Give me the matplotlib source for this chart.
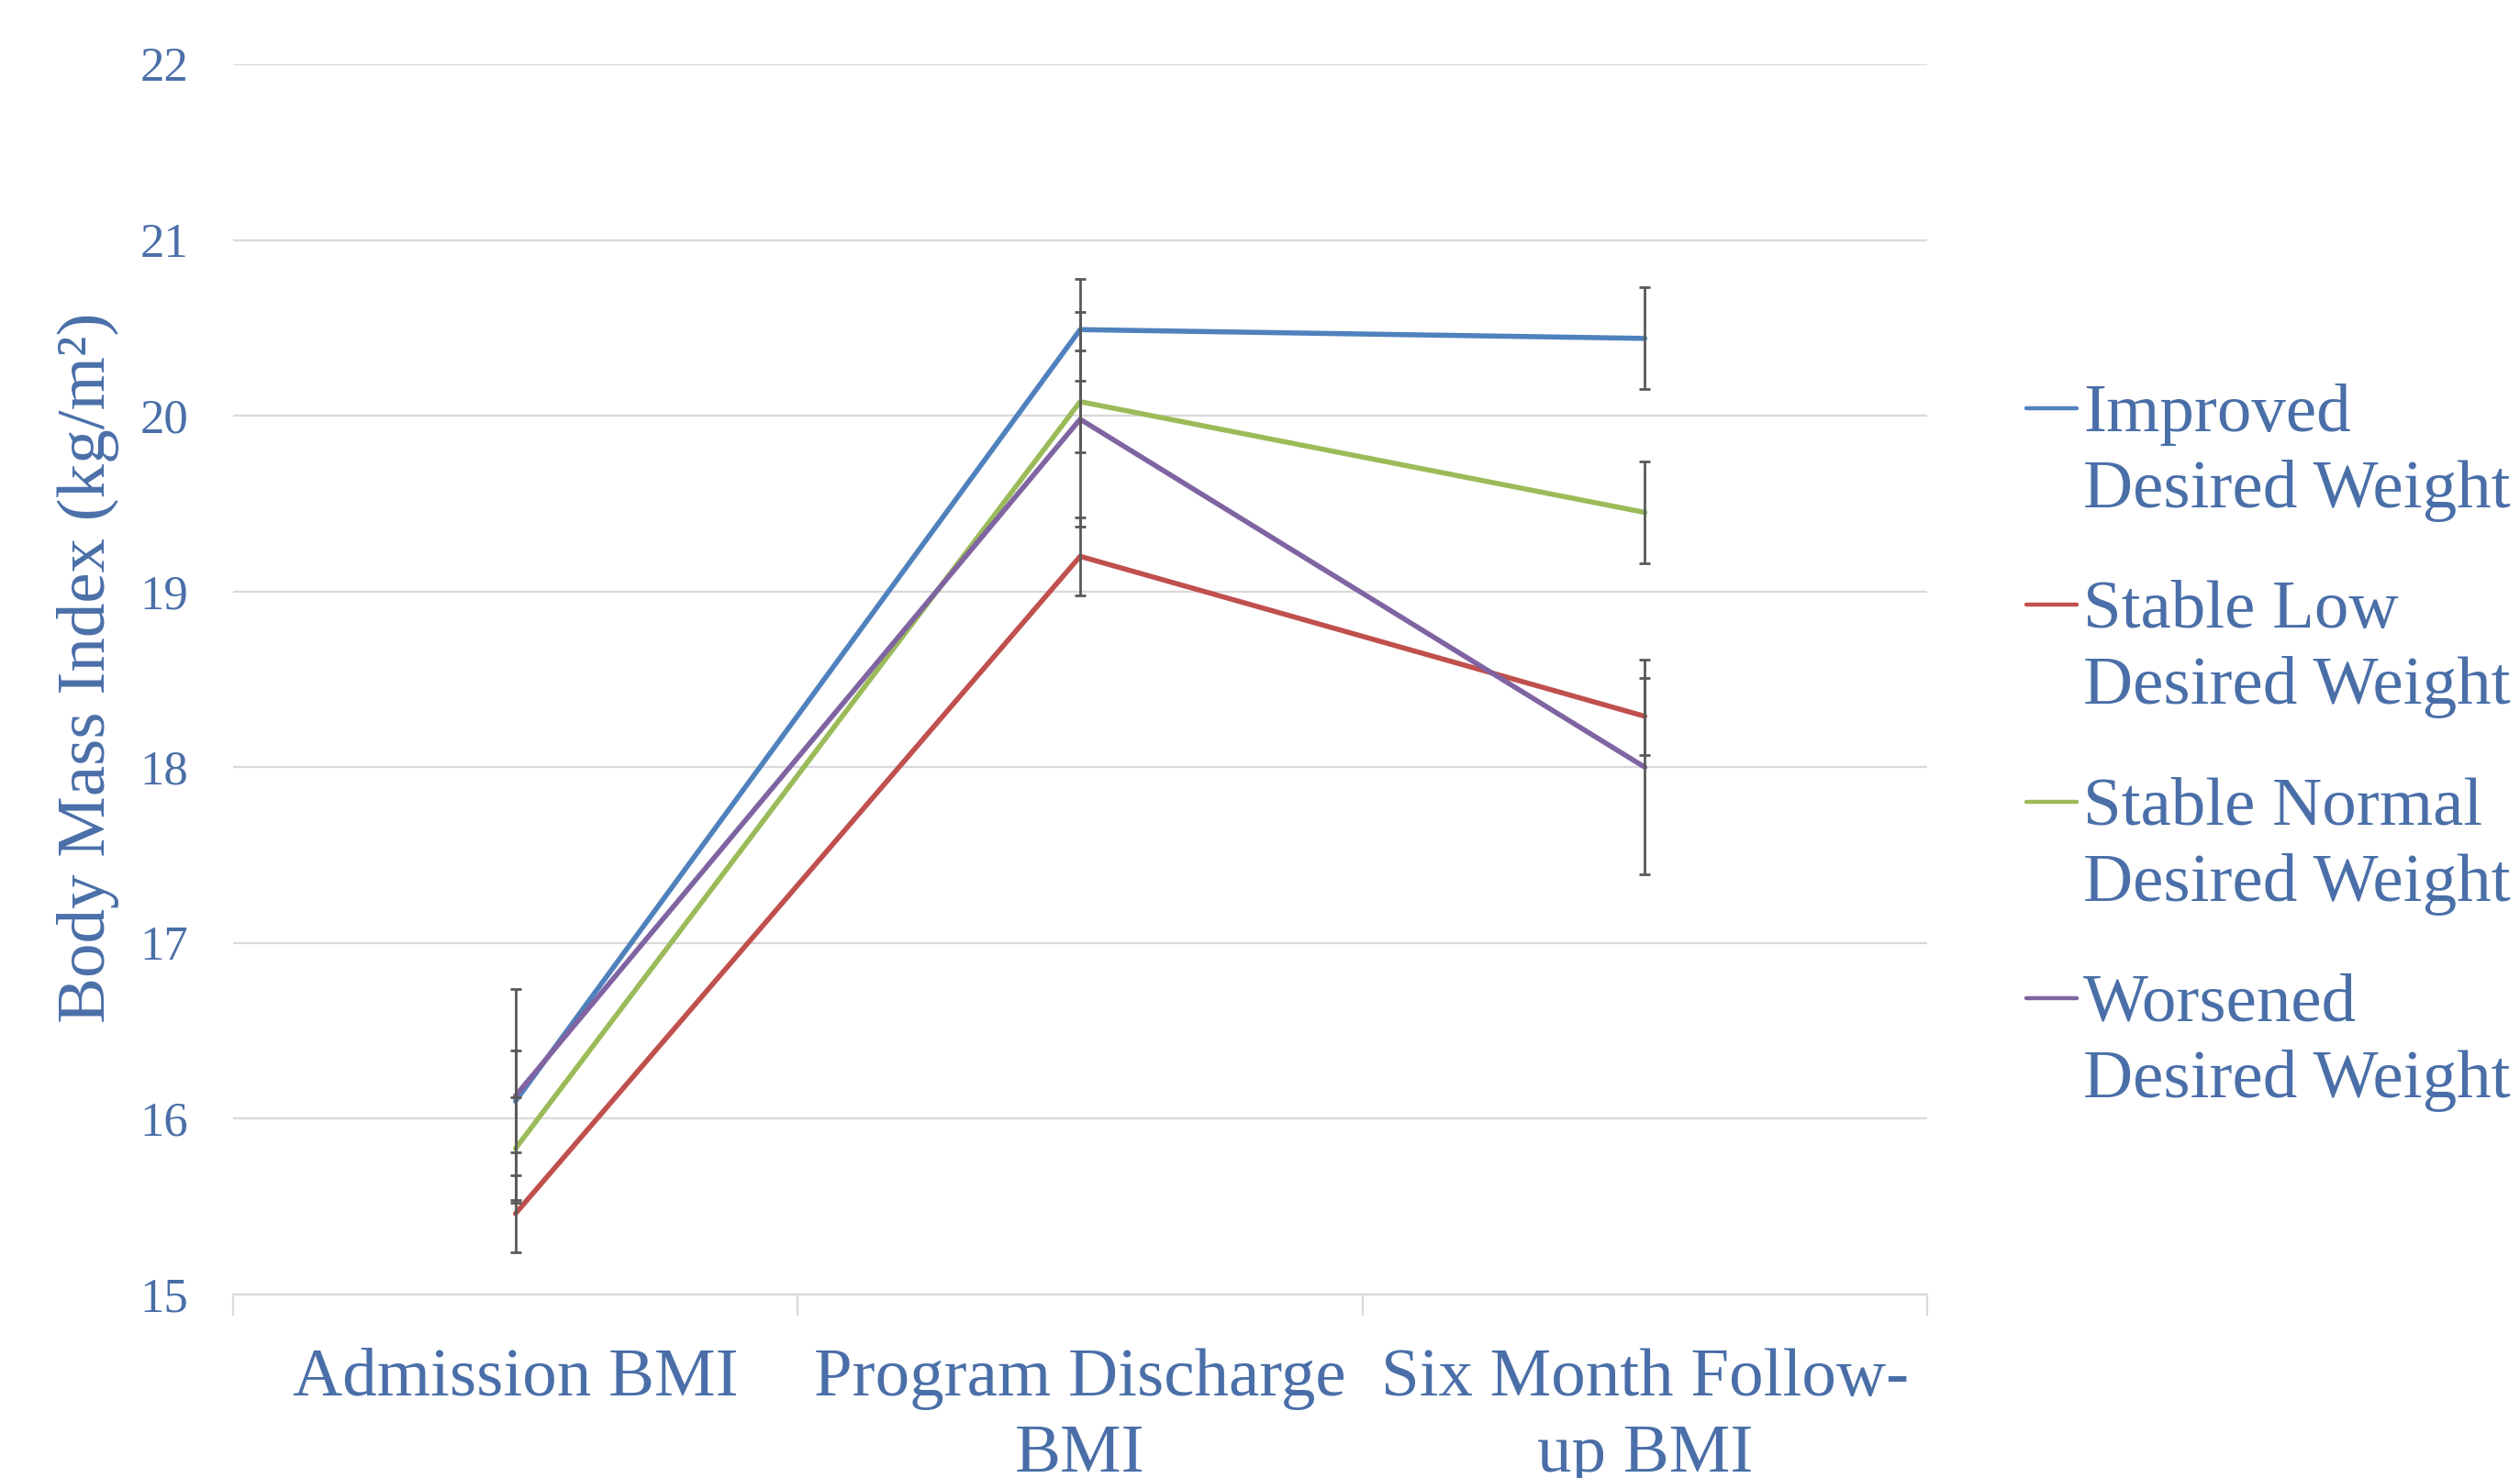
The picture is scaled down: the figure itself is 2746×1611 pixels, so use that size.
import matplotlib.pyplot as plt
from matplotlib.lines import Line2D

# data
timepoints = ['Admission BMI', 'Program Discharge\nBMI', 'Six Month Follow-\nup BMI']
series_names = ['Improved\nDesired Weight', 'Stable Low\nDesired Weight',
                'Stable Normal\nDesired Weight', 'Worsened\nDesired Weight']
improved = [16.10, 20.49, 20.44]
stable_low = [15.46, 19.20, 18.29]
stable_normal = [15.83, 20.08, 19.45]
worsened = [16.13, 19.98, 18.00]
errors = [0.29, 0.22, 0.29, 0.61]
colors = ['#4F81BD', '#C0504D', '#9BBB59', '#8064A2']
yticks = [15, 16, 17, 18, 19, 20, 21, 22]

text_color = '#4A6FA8'
plt.rcParams['font.family'] = ['Liberation Serif', 'DejaVu Serif']

W, H = 2746, 1611
fig = plt.figure(figsize=(W / 200, H / 200), dpi=200)
ax = fig.add_axes([254 / W, 1 - 1411 / H, (2100 - 254) / W, (1411 - 70) / H])

xpos = [0.5, 1.5, 2.5]
for vals, err, c in zip([improved, stable_low, stable_normal, worsened], errors, colors):
    ax.plot(xpos, vals, color=c, lw=2.0, solid_capstyle='round', zorder=3)
    ax.errorbar(xpos, vals, yerr=err, fmt='none', ecolor='#595959',
                elinewidth=1.0, capsize=2.2, capthick=1.0, zorder=4)

ax.set_xlim(0, 3)
ax.set_ylim(15, 22)
ax.set_yticks(yticks)
ax.set_yticklabels([str(t) for t in yticks])
ax.tick_params(axis='y', length=0, pad=17.5, labelsize=19, labelcolor=text_color)

ax.set_xticks([0, 1, 2, 3])
ax.set_xticklabels([])
ax.set_xticks(xpos, minor=True)
ax.set_xticklabels(timepoints, minor=True)
ax.tick_params(axis='x', which='major', length=8.3, width=0.8, color='#D9D9D9', direction='out')
ax.tick_params(axis='x', which='minor', length=0, pad=21, labelsize=27, labelcolor=text_color)
for t in ax.get_xticklabels(minor=True):
    t.set_linespacing(1.3)

ax.grid(axis='y', color='#D9D9D9', lw=0.8)
ax.set_axisbelow(True)
for s in ['top', 'right', 'left']:
    ax.spines[s].set_visible(False)
ax.spines['bottom'].set_color('#D9D9D9')
ax.spines['bottom'].set_linewidth(0.8)

fig.text(96 / W, 1 - 728 / H, 'Body Mass Index (kg/m²)', rotation=90,
         ha='center', va='center', fontsize=27, color=text_color)

# legend, drawn by hand so the line sits next to the first text row
for i, (name, c) in enumerate(zip(series_names, colors)):
    y0 = 445 + 214.3 * i
    fig.add_artist(Line2D([2208 / W, 2263 / W], [1 - y0 / H, 1 - y0 / H],
                          color=c, lw=1.6, solid_capstyle='round'))
    first, second = name.split('\n')
    fig.text(2270 / W, 1 - (y0 + 25) / H, first, ha='left', va='baseline',
             fontsize=27, color=text_color)
    fig.text(2270 / W, 1 - (y0 + 108) / H, second, ha='left', va='baseline',
             fontsize=27, color=text_color)

fig.savefig('out.png', dpi=200)
